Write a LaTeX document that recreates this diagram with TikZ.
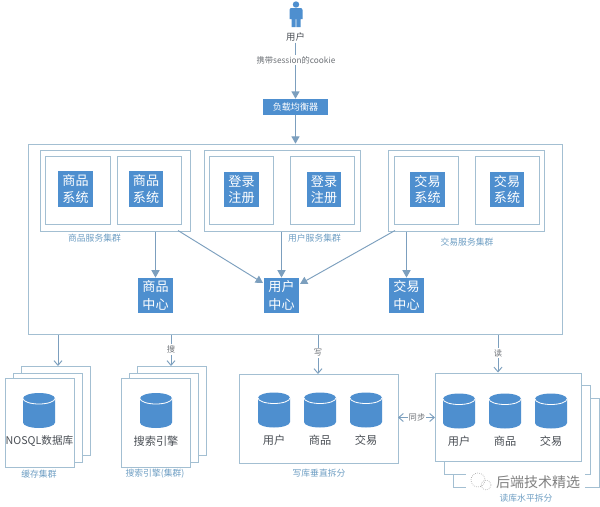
\documentclass[tikz,border=0pt]{standalone}
\usepackage{fontspec}
\setmainfont{Noto Sans CJK SC}
\usetikzlibrary{arrows.meta}
\definecolor{frameC}{HTML}{A3BFD2}
\definecolor{lineC}{HTML}{7C9FBE}
\definecolor{blueC}{HTML}{4E8FCF}
\definecolor{labelC}{HTML}{6F9FC4}
\definecolor{textC}{HTML}{4A4F55}
\tikzset{
  px/.style={x=0.75pt,y=-0.75pt},
  framebox/.style={draw=frameC,line width=0.9pt,fill=white,inner sep=0pt},
  bluebox/.style={fill=blueC,draw=none,text=white,inner sep=0pt,align=center,
    font=\fontsize{9.8}{12.6}\selectfont,minimum width=26.2pt,minimum height=26.5pt},
  sysbox/.style={bluebox},
  clusterlabel/.style={text=labelC,font=\fontsize{6.6}{8}\selectfont,inner sep=0pt},
  dblabel/.style={text=textC,font=\fontsize{8.4}{10}\selectfont,inner sep=0pt},
  linklabel/.style={text=textC!80,font=\fontsize{6.2}{8}\selectfont,fill=white,inner sep=1pt},
  bigarrow/.style={draw=lineC,line width=0.9pt,-{Triangle[length=5.5pt,width=6pt,fill=lineC]}},
  openarrow/.style={draw=lineC,line width=0.7pt,-{Straight Barb[length=3.5pt,width=6pt]}},
  syncarrow/.style={draw=lineC,line width=0.7pt,{Straight Barb[length=3.5pt,width=6pt]}-{Straight Barb[length=3.5pt,width=6pt]}},
  dbcyl/.pic={
    \fill[blueC] (-16,-12) -- (-16,12) arc[start angle=180,end angle=0,x radius=16,y radius=5.5]
      -- (16,-12) arc[start angle=0,end angle=-180,x radius=16,y radius=5.5] -- cycle;
    \draw[white,line width=0.6pt] (-16,-12) arc[start angle=180,end angle=0,x radius=16,y radius=5.5];
  }
}
\newcommand{\boxat}[6]{\node[framebox,anchor=north west,minimum width=#4*0.75pt-#2*0.75pt,minimum height=#5*0.75pt-#3*0.75pt,#6] (#1) at (#2,#3) {};}
\begin{document}
\begin{tikzpicture}[px]
\useasboundingbox (0,0) rectangle (600,507);
\fill[white] (0,0) rectangle (600,507);

% user
\fill[blueC] (296,4.5) circle[radius=3.2];
\fill[blueC] (289.5,10) .. controls (289.5,8.5) and (290.5,8) .. (292,8) -- (300,8) .. controls (301.5,8) and (302.5,8.5) .. (302.5,10) -- (302.5,19) -- (300.5,19) -- (300.5,27) -- (296.4,27) -- (296.4,19) -- (295.6,19) -- (295.6,27) -- (291.5,27) -- (291.5,19) -- (289.5,19) -- cycle;
\node[text=textC,font=\fontsize{7}{8}\selectfont,inner sep=0pt] (user) at (295.5,37) {用户};

% load balancer
\node[fill=blueC,text=white,inner sep=0pt,minimum width=48.75pt,minimum height=12pt,font=\fontsize{6.8}{8}\selectfont] (lb) at (295.5,107) {负载均衡器};

% main frame
\boxat{main}{27.5}{143.7}{561.5}{334}{}

\draw[bigarrow] (user.south -| lb.north) ++(0,1) -- (lb.north);
\draw[bigarrow] (lb.south) -- (lb.south |- main.north);
\node[linklabel,fill=white] (cookie) at (296,60) {携带session的cookie};

% clusters
\boxat{gc}{40}{150}{190}{230.5}{}
\boxat{g1}{45}{155.5}{109.5}{224}{}
\boxat{g2}{116.5}{155.5}{180.5}{224}{}
\boxat{uc}{204}{150}{360}{230.5}{}
\boxat{u1}{208.5}{155.5}{272.5}{224}{}
\boxat{u2}{289.5}{155.5}{353.5}{224}{}
\boxat{tc}{388}{150}{544}{230.5}{}
\boxat{t1}{394}{155.5}{458}{224}{}
\boxat{t2}{475}{155.5}{539}{224}{}

\node[sysbox] (gs1) at (75.5,189) {商品\\系统};
\node[sysbox] (gs2) at (146,189) {商品\\系统};
\node[sysbox] (us1) at (241.5,189.5) {登录\\注册};
\node[sysbox] (us2) at (324,189.5) {登录\\注册};
\node[sysbox] (ts1) at (427.5,189.5) {交易\\系统};
\node[sysbox] (ts2) at (507,189.5) {交易\\系统};

\node[clusterlabel] (gl) at (94.5,238) {商品服务集群};
\node[clusterlabel] (ul) at (314.5,238) {用户服务集群};
\node[clusterlabel] (tl) at (467,242) {交易服务集群};

% centers
\node[bluebox,font=\fontsize{9.8}{13.4}\selectfont] (gcenter) at (155.5,295.5) {商品\\中心};
\node[bluebox,font=\fontsize{9.8}{13.4}\selectfont] (ucenter) at (281.5,295.5) {用户\\中心};
\node[bluebox,font=\fontsize{9.8}{13.4}\selectfont] (tcenter) at (406.5,295.5) {交易\\中心};

\coordinate (gcFoot) at (178,230.5);
\coordinate (tcFoot) at (395,230.5);
\coordinate (ucIn) at (263,283);
\coordinate (ucInR) at (300,284);
\draw[bigarrow] (gcenter.north |- gc.south) -- (gcenter.north);
\draw[bigarrow] (ucenter.north |- uc.south) -- (ucenter.north);
\draw[bigarrow] (tcenter.north |- tc.south) -- (tcenter.north);
\draw[bigarrow,line width=0.7pt] (gcFoot) -- (ucIn);
\draw[bigarrow,line width=0.7pt] (tcFoot) -- (ucInR);

% cache stack
\boxat{c3}{21}{366}{90}{455}{}
\boxat{c2}{13}{373}{81.5}{462}{}
\boxat{c1}{5}{377.5}{73.5}{466.5}{}
\pic at (39,410.5) {dbcyl};
\node[dblabel,font=\fontsize{8}{10}\selectfont] (nosql) at (39.5,441) {NOSQL数据库};
\node[clusterlabel] (cachel) at (39,474) {缓存集群};

% search stack
\boxat{s3}{137}{366}{206}{455}{}
\boxat{s2}{129}{373}{198}{462}{}
\boxat{s1}{121}{377.5}{190}{466.5}{}
\pic at (156,410.5) {dbcyl};
\node[dblabel] (searchn) at (156,441) {搜索引擎};
\node[clusterlabel] (searchl) at (155,474) {搜索引擎(集群)};

% write box
\boxat{w}{238.5}{374}{398}{463}{}
\pic at (274,410) {dbcyl};
\pic at (320,410) {dbcyl};
\pic at (366,410) {dbcyl};
\node[dblabel] (w1) at (274,440) {用户};
\node[dblabel] (w2) at (320,440) {商品};
\node[dblabel] (w3) at (366,440) {交易};
\node[clusterlabel] (wl) at (319,473) {写库垂直拆分};

% read stack
\boxat{r3}{453}{398}{599}{487}{}
\boxat{r2}{444}{385}{590}{474}{}
\boxat{r1}{435}{372.5}{581}{461}{}
\pic at (459,411) {dbcyl};
\pic at (505,411) {dbcyl};
\pic at (551,411) {dbcyl};
\node[dblabel] (r1t) at (459,441) {用户};
\node[dblabel] (r2t) at (505,441) {商品};
\node[dblabel] (r3t) at (551,441) {交易};
\node[clusterlabel] (rl) at (526,498) {读库水平拆分};

% lower connectors
\coordinate (cacheIn) at (58,366);
\coordinate (searchIn) at (171,366);
\coordinate (writeIn) at (318,374);
\coordinate (readIn) at (498,372.5);
\draw[openarrow] (cacheIn |- main.south) -- (cacheIn);
\draw[openarrow] (searchIn |- main.south) -- (searchIn);
\draw[openarrow] (writeIn |- main.south) -- (writeIn);
\draw[openarrow] (readIn |- main.south) -- (readIn);
\node[linklabel] (sou) at (171,349.5) {搜};
\node[linklabel] (xie) at (318,353) {写};
\node[linklabel] (du) at (498,353) {读};
\coordinate (syncL) at (398,417.5);
\coordinate (syncR) at (435,417.5);
\draw[syncarrow] (syncL) -- (syncR);
\node[linklabel,inner sep=0.5pt] (sync) at (417,417) {同步};

% watermark
\fill[white] (466,471) rectangle (585,490);
\fill[white] (478,480) circle[radius=8];
\fill[white] (486,485) circle[radius=6];
\draw[gray!70,densely dotted,line width=0.5pt] (478,480) circle[radius=7];
\draw[gray!70,densely dotted,line width=0.5pt] (486,485) circle[radius=5];
\node[text=gray,inner sep=0pt,font=\fontsize{10.5}{12}\selectfont] (wm) at (538,482) {后端技术精选};
\end{tikzpicture}
\end{document}
